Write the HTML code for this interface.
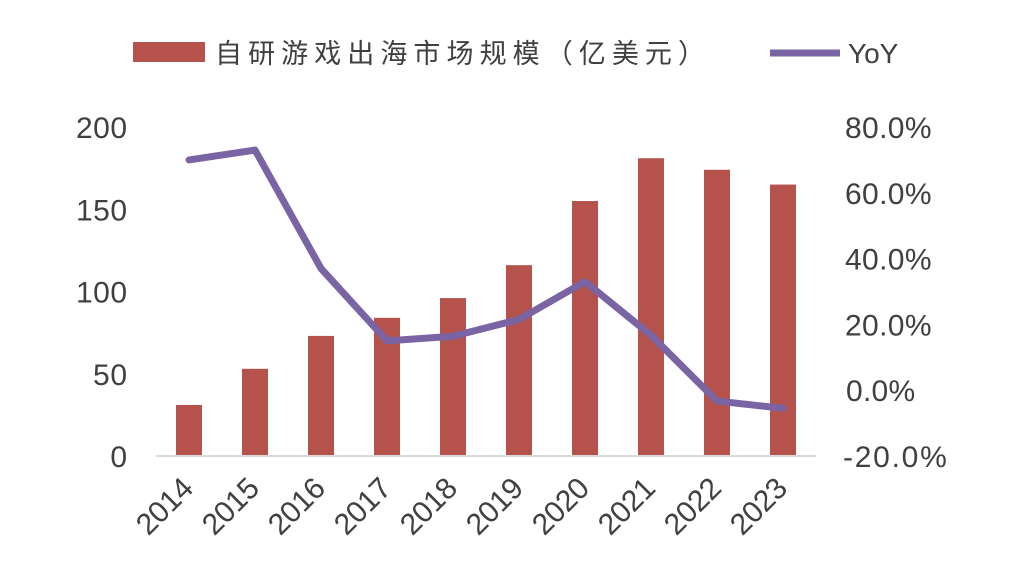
<!DOCTYPE html>
<html><head><meta charset="utf-8"><style>
body{margin:0;background:#fff;}
svg text{font-family:"Liberation Sans","Noto Sans CJK SC",sans-serif;fill:#404040;}
</style></head><body>
<svg id="c" width="1024" height="576">
<g id="legend">
<rect x="133" y="42" width="72" height="20" fill="#B5524B"/>
<text x="215" y="63" font-size="27" textLength="490">自研游戏出海市场规模（亿美元）</text>
<line x1="770" y1="53" x2="840" y2="53" stroke="#7A64A4" stroke-width="7"/>
<text x="848" y="63" font-size="28">YoY</text>
</g>
</svg>
<script>
const categories=["2014","2015","2016","2017","2018","2019","2020","2021","2022","2023"];
const marketSize=[31,53,73,84,96,116,155,181,174,165];
const yoy=[70,73,37,15,16.4,21.5,33,16.7,-3.3,-5.5];
const leftTicks=[0,50,100,150,200];
const rightTicks=[-20,0,20,40,60,80];
const NS="http://www.w3.org/2000/svg";
const svg=document.getElementById('c');
const x0=156,x1=816,yTop=127,yBot=456;
const step=(x1-x0)/categories.length;
const xc=i=>x0+step*(i+0.5);
const yL=v=>yBot-(v/200)*(yBot-yTop);
const yR=v=>yBot-((v+20)/100)*(yBot-yTop);
function mk(t,a){const e=document.createElementNS(NS,t);for(const k in a)e.setAttribute(k,a[k]);svg.appendChild(e);return e;}
leftTicks.forEach(v=>{const s=String(v);const t=mk('text',{x:127,y:yL(v)+11,'font-size':30,'text-anchor':'end',textLength:s.length*17});t.textContent=s;

});
rightTicks.forEach(v=>{const s=v.toFixed(1)+'%';const t=mk('text',{x:v<0?843:(s.length===4?846:845),y:yR(v)+11,'font-size':30,textLength:s.length*17.3});t.textContent=s;

});
marketSize.forEach((v,i)=>{const r=mk('rect',{x:xc(i)-13,y:yL(v),width:26,height:yBot-yL(v),fill:'#B5524B'});

});
const ax=mk('line',{x1:x0,y1:yBot,x2:x1,y2:yBot,stroke:'#d9d9d9','stroke-width':2});


categories.forEach((c,i)=>{const t=mk('text',{x:xc(i)+6,y:yBot+34,'font-size':30,'text-anchor':'end',textLength:66,transform:`rotate(-45 ${xc(i)+6} ${yBot+34})`});t.textContent=c;

});
const pl=mk('polyline',{points:yoy.map((v,i)=>xc(i)+','+yR(v)).join(' '),fill:'none',stroke:'#7A64A4','stroke-width':7,'stroke-linejoin':'round','stroke-linecap':'round'});


</script>
</body></html>
